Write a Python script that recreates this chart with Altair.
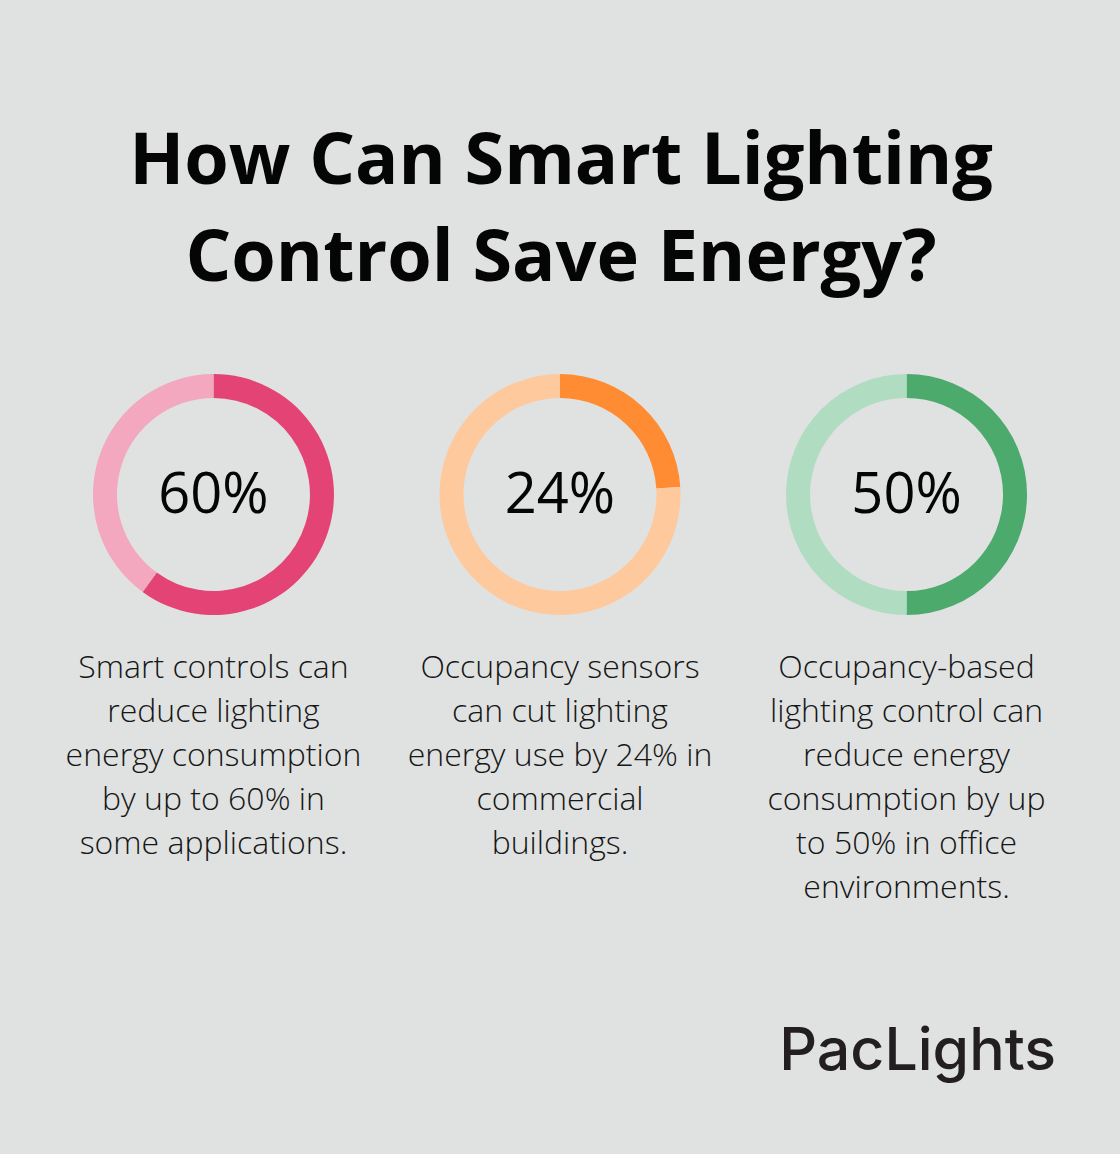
import altair as alt
import pandas as pd

categories = ["Smart controls", "Occupancy sensors", "Occupancy-based control"]
percent_values = [60, 24, 50]
dark_colors = ["#e44375", "#ff8c33", "#4caa6c"]
light_colors = ["#f3a8bf", "#ffc99e", "#b0dcc1"]
descriptions = [
    ["Smart controls can", "reduce lighting", "energy consumption", "by up to 60% in", "some applications."],
    ["Occupancy sensors", "can cut lighting", "energy use by 24% in", "commercial", "buildings."],
    ["Occupancy-based", "lighting control can", "reduce energy", "consumption by up", "to 50% in office", "environments."],
]
title_lines = ["How Can Smart Lighting", "Control Save Energy?"]
brand = "PacLights"

# donut table
rows = []
keys, key_colors = [], []
for c, v, dc, lc in zip(categories, percent_values, dark_colors, light_colors):
    rows.append({"cat": c, "part": "value", "order": 0, "v": v, "key": c + "|value"})
    rows.append({"cat": c, "part": "rest", "order": 1, "v": 100 - v, "key": c + "|rest"})
    keys += [c + "|value", c + "|rest"]
    key_colors += [dc, lc]
donut_df = pd.DataFrame(rows)

label_df = pd.DataFrame({"cat": categories, "label": [f"{v}%" for v in percent_values]})
desc_df = pd.DataFrame({"cat": categories, "desc": ["\n".join(d) for d in descriptions]})
title_df = pd.DataFrame({"t": ["\n".join(title_lines)]})
brand_df = pd.DataFrame({"t": [brand]})

xscale = alt.Scale(type="point", domain=categories, padding=0.616)
X = alt.X("cat:N", scale=xscale, axis=None)

donut = alt.Chart(donut_df).transform_stack(
    stack="v", groupby=["cat"], as_=["v0", "v1"], sort=[alt.SortField("order", "ascending")]
).mark_arc(outerRadius=120.5, innerRadius=96.5).encode(
    x=X,
    y=alt.value(494.5),
    theta=alt.Theta("v0:Q", scale=alt.Scale(domain=[0, 100], range=[0, 6.283185307179586])),
    theta2="v1:Q",
    color=alt.Color("key:N", scale=alt.Scale(domain=keys, range=key_colors), legend=None),
)

labels = alt.Chart(label_df).mark_text(
    font="Open Sans", fontSize=56, fontWeight=500, color="#050505", align="center", baseline="alphabetic"
).encode(x=X, y=alt.value(513), text="label:N")

desc = alt.Chart(desc_df).mark_text(
    font="Open Sans", fontSize=32, fontWeight=300, color="#161616", align="center",
    baseline="alphabetic", lineBreak="\n", lineHeight=44
).encode(x=X, y=alt.value(678), text="desc:N")

title = alt.Chart(title_df).mark_text(
    font="Open Sans", fontSize=72, fontWeight="bold", color="#050505", align="center",
    baseline="alphabetic", lineBreak="\n", lineHeight=97
).encode(x=alt.value(561), y=alt.value(184), text="t:N")

logo = alt.Chart(brand_df).mark_text(
    font="Inter", fontSize=59, fontWeight=500, color="#231f20", align="right", baseline="alphabetic"
).encode(x=alt.value(1056), y=alt.value(1070), text="t:N")

chart = alt.layer(donut, labels, desc, title, logo).properties(
    width=1120, height=1154, autosize=alt.AutoSizeParams(type="none"), padding=0,
    background="#e0e2e1"
).configure_view(stroke=None)

chart.save("out.html", embed_options={"renderer": "svg", "actions": False})
